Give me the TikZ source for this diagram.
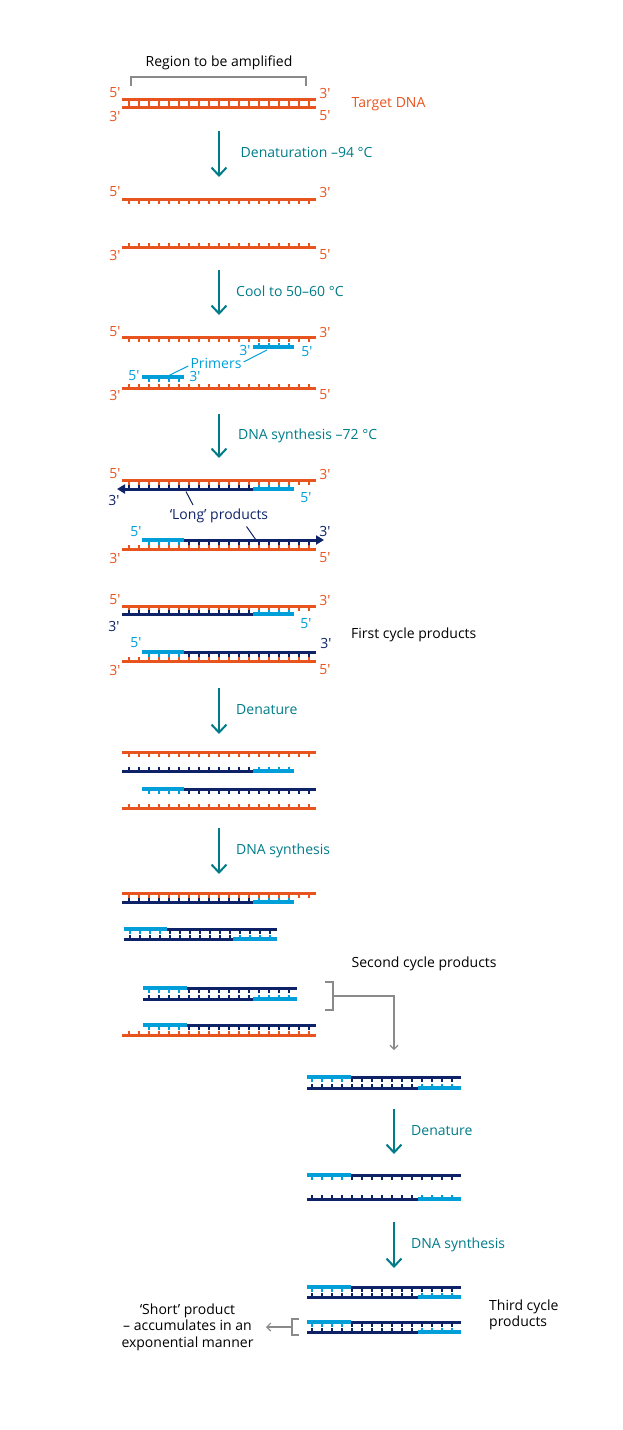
\documentclass[tikz,border=0pt]{standalone}
\usepackage{fontspec}
\setmainfont{Open Sans}
\usetikzlibrary{arrows.meta}

\definecolor{dnaorange}{HTML}{E8541E}
\definecolor{stepteal}{HTML}{007C89}
\definecolor{primerblue}{HTML}{009FDA}
\definecolor{newnavy}{HTML}{0E2267}
\definecolor{bracketgray}{HTML}{8A8A8A}

% one strand: style, x from, x to, y, rung length (+ down, - up), rung positions
\newcommand{\strand}[6]{%
  \foreach \tk in {#6} {\draw[#1, rung] (\tk,#4) -- ++(0,#5);}
  \draw[#1] (#2,#4) -- (#3,#4);
}

\tikzset{
  ostrand/.style={draw=dnaorange, line width=3pt},
  nstrand/.style={draw=newnavy, line width=3pt},
  pbar/.style={draw=primerblue, line width=4.5pt},
  rung/.style={line width=2.4pt},
  olab/.style={text=dnaorange},
  nlab/.style={text=newnavy},
  plab/.style={text=primerblue},
  steplab/.style={text=stepteal, anchor=base west},
  note/.style={text=black},
  stagearrow/.style={draw=stepteal, line width=2pt, -{Straight Barb[length=8pt,width=15pt]}},
  bracket/.style={draw=bracketgray, line width=1.1pt},
  grayarrow/.style={bracket, -{Straight Barb[length=4pt,width=8pt]}},
  navytip/.style={nstrand, -{Triangle[length=8pt,width=9pt]}},
}

\begin{document}
\begin{tikzpicture}[x=1pt, y=-1pt, every node/.style={font=\fontsize{14}{16.5}\selectfont, inner sep=0pt}]
    \useasboundingbox (0,0) rectangle (623,1430);

    % Target DNA
    \node[note, anchor=base] (region) at (219,66) {Region to be amplified};
    \draw[bracket] (131,86) -- (131,77) -- (306,77) -- (306,86);
    \strand{ostrand}{122}{316}{99}{4}{129,139,...,309}
    \strand{ostrand}{122}{316}{107}{-4}{129,139,...,309}
    \node[olab] (a5l) at (115,93) {5′};
    \node[olab] (a3l) at (115,116) {3′};
    \node[olab] (a3r) at (325,93) {3′};
    \node[olab] (a5r) at (325,116) {5′};
    \node[olab, anchor=base west] (target) at (351.5,107.5) {Target DNA};

    % Steps down the middle
    \foreach \n/\x/\ya/\yb in {1/219/131/177, 2/219/270/315, 3/219/414/458, 4/219/688/734, 5/219/828/874, 6/394/1109/1154, 7/394/1222/1268} {
        \coordinate (from\n) at (\x,\ya);
        \coordinate (to\n) at (\x,\yb);
        \draw[stagearrow] (from\n) -- (to\n);
    }
    \node[steplab] (step1) at (240.5,157) {Denaturation –94 °C};
    \node[steplab] (step2) at (236,296) {Cool to 50–60 °C};
    \node[steplab] (step3) at (238,439) {DNA synthesis –72 °C};
    \node[steplab] (step4) at (236,714) {Denature};
    \node[steplab] (step5) at (236,854) {DNA synthesis};
    \node[steplab] (step6) at (411,1135) {Denature};
    \node[steplab] (step7) at (411,1248) {DNA synthesis};

    % Denatured strands
    \strand{ostrand}{122}{316}{199}{4.5}{129,139,...,309}
    \strand{ostrand}{122}{316}{247}{-4.5}{129,139,...,309}
    \node[olab] (b5l) at (115,192) {5′};
    \node[olab] (b3r) at (325,192) {3′};
    \node[olab] (b3l) at (115,255) {3′};
    \node[olab] (b5r) at (325,255) {5′};

    % Primers annealed
    \strand{ostrand}{122}{316}{337}{4.5}{129,139,...,309}
    \strand{pbar}{253}{294}{347}{-4.5}{259,269,...,289}
    \strand{pbar}{142}{184}{377}{4.5}{149,159,...,179}
    \strand{ostrand}{122}{316}{388}{-4.5}{129,139,...,309}
    \node[olab] (c5l) at (115,332) {5′};
    \node[olab] (c3r) at (325,332) {3′};
    \node[plab] (c3p) at (245,350) {3′};
    \node[plab] (c5p) at (307,352) {5′};
    \node[plab] (c5q) at (134,376) {5′};
    \node[plab] (c3q) at (195,376) {3′};
    \node[plab, anchor=base] (primers) at (216,368) {Primers};
    \coordinate (ptop) at (267,350);
    \coordinate (pbot) at (168,376);
    \draw[primerblue, line width=1pt] ([xshift=2pt, yshift=1pt]primers.east) -- (ptop);
    \draw[primerblue, line width=1pt] ([xshift=-2pt, yshift=-3pt]primers.west) -- (pbot);
    \node[olab] (c3l) at (115,395) {3′};
    \node[olab] (c5r) at (325,395) {5′};

    % Long products
    \strand{ostrand}{122}{316}{480}{4.5}{129,139,...,309}
    \strand{nstrand}{126}{253}{489}{-4.5}{129,139,...,249}
    \draw[navytip] (140,489) -- (117,489);
    \strand{pbar}{253}{294}{489}{-4.5}{259,269,...,289}
    \strand{pbar}{142}{184}{540}{4.5}{149,159,...,179}
    \strand{nstrand}{184}{312}{540}{4.5}{189,199,...,309}
    \draw[navytip] (300,540) -- (324,540);
    \strand{ostrand}{122}{316}{549}{-4.5}{129,139,...,309}
    \node[olab] (d5l) at (115,474) {5′};
    \node[olab] (d3r) at (325,474) {3′};
    \node[nlab] (d3n) at (114,500) {3′};
    \node[plab] (d5p) at (306,498) {5′};
    \node[plab] (d5q) at (136,532) {5′};
    \node[nlab] (d3m) at (325,531) {3′};
    \node[olab] (d3l) at (115,558) {3′};
    \node[olab] (d5r) at (325,558) {5′};
    \node[nlab, anchor=base] (long) at (219,519) {‘Long’ products};
    \coordinate (ltop) at (186,491.5);
    \coordinate (lbot) at (256,540);
    \draw[newnavy, line width=1pt] (ltop) -- (193,505);
    \draw[newnavy, line width=1pt] (246.5,526.5) -- (lbot);

    % First cycle products
    \strand{ostrand}{122}{316}{606}{4.5}{129,139,...,309}
    \strand{nstrand}{122}{253}{614}{-4.5}{129,139,...,249}
    \strand{pbar}{253}{294}{614}{-4.5}{259,269,...,289}
    \strand{pbar}{142}{184}{652}{4.5}{149,159,...,179}
    \strand{nstrand}{184}{316}{652}{4.5}{189,199,...,309}
    \strand{ostrand}{122}{316}{661}{-4.5}{129,139,...,309}
    \node[olab] (e5l) at (115,600) {5′};
    \node[olab] (e3r) at (325,600) {3′};
    \node[nlab] (e3n) at (114,626) {3′};
    \node[plab] (e5p) at (306,624) {5′};
    \node[plab] (e5q) at (136,643) {5′};
    \node[nlab] (e3m) at (326,643) {3′};
    \node[olab] (e3l) at (115,670) {3′};
    \node[olab] (e5r) at (325,670) {5′};
    \node[note, anchor=base west] (first) at (351,638) {First cycle products};

    % Denature again
    \strand{ostrand}{122}{316}{752}{4.5}{129,139,...,309}
    \strand{nstrand}{122}{253}{771}{-4.5}{129,139,...,249}
    \strand{pbar}{253}{294}{771}{-4.5}{259,269,...,289}
    \strand{pbar}{142}{184}{789}{4.5}{149,159,...,179}
    \strand{nstrand}{184}{316}{789}{4.5}{189,199,...,309}
    \strand{ostrand}{122}{316}{808}{-4.5}{129,139,...,309}

    % Second cycle
    \strand{ostrand}{122}{316}{893}{4.5}{129,139,...,309}
    \strand{nstrand}{122}{253}{902}{-4.5}{129,139,...,249}
    \strand{pbar}{253}{294}{902}{-4.5}{259,269,...,289}
    \strand{pbar}{124}{167}{929}{4.5}{130,140,...,160}
    \strand{nstrand}{167}{277}{929}{4.5}{170,180,...,270}
    \strand{nstrand}{124}{233}{939}{-4.5}{130,140,...,230}
    \strand{pbar}{233}{277}{939}{-4.5}{240,250,...,270}
    \strand{pbar}{143}{187}{988}{4.5}{149,159,...,179}
    \strand{nstrand}{187}{297}{988}{4.5}{189,199,...,289}
    \strand{nstrand}{143}{253}{999}{-4.5}{149,159,...,249}
    \strand{pbar}{253}{297}{999}{-4.5}{259,269,...,289}
    \strand{pbar}{143}{187}{1025}{4.5}{149,159,...,179}
    \strand{nstrand}{187}{316}{1025}{4.5}{189,199,...,309}
    \strand{ostrand}{122}{316}{1035}{-4.5}{129,139,...,309}
    \node[note, anchor=base west] (second) at (351.5,967) {Second cycle products};
    \draw[bracket] (325,982) -- (333,982) -- (333,1010) -- (325,1010);
    \coordinate (sbr) at (333,996);
    \coordinate (sdown) at (394,1050);
    \draw[grayarrow] (sbr) -| (sdown);

    % Short pair
    \strand{pbar}{307}{351}{1077}{4.5}{312,322,...,342}
    \strand{nstrand}{351}{461}{1077}{4.5}{352,362,...,452}
    \strand{nstrand}{307}{418}{1088}{-4.5}{312,322,...,412}
    \strand{pbar}{418}{461}{1088}{-4.5}{422,432,...,452}

    \strand{pbar}{307}{351}{1175}{4.5}{312,322,...,342}
    \strand{nstrand}{351}{461}{1175}{4.5}{352,362,...,452}
    \strand{nstrand}{307}{418}{1199}{-4.5}{312,322,...,412}
    \strand{pbar}{418}{461}{1199}{-4.5}{422,432,...,452}

    % Third cycle
    \foreach \ya/\yb in {1287/1297, 1322/1332} {
        \strand{pbar}{307}{351}{\ya}{4.5}{312,322,...,342}
        \strand{nstrand}{351}{461}{\ya}{4.5}{352,362,...,452}
        \strand{nstrand}{307}{418}{\yb}{-4.5}{312,322,...,412}
        \strand{pbar}{418}{461}{\yb}{-4.5}{422,432,...,452}
    }
    \node[note, align=left, anchor=west] (third) at (489,1315) {Third cycle\\products};
    \draw[bracket] (299,1319) -- (292,1319) -- (292,1335) -- (299,1335);
    \coordinate (tbr) at (292,1327);
    \coordinate (tleft) at (266,1327);
    \draw[grayarrow] (tbr) -- (tleft);
    \node[note, align=center, anchor=center] (short) at (187.5,1327) {‘Short’ product\\– accumulates in an\\exponential manner};
\end{tikzpicture}
\end{document}
